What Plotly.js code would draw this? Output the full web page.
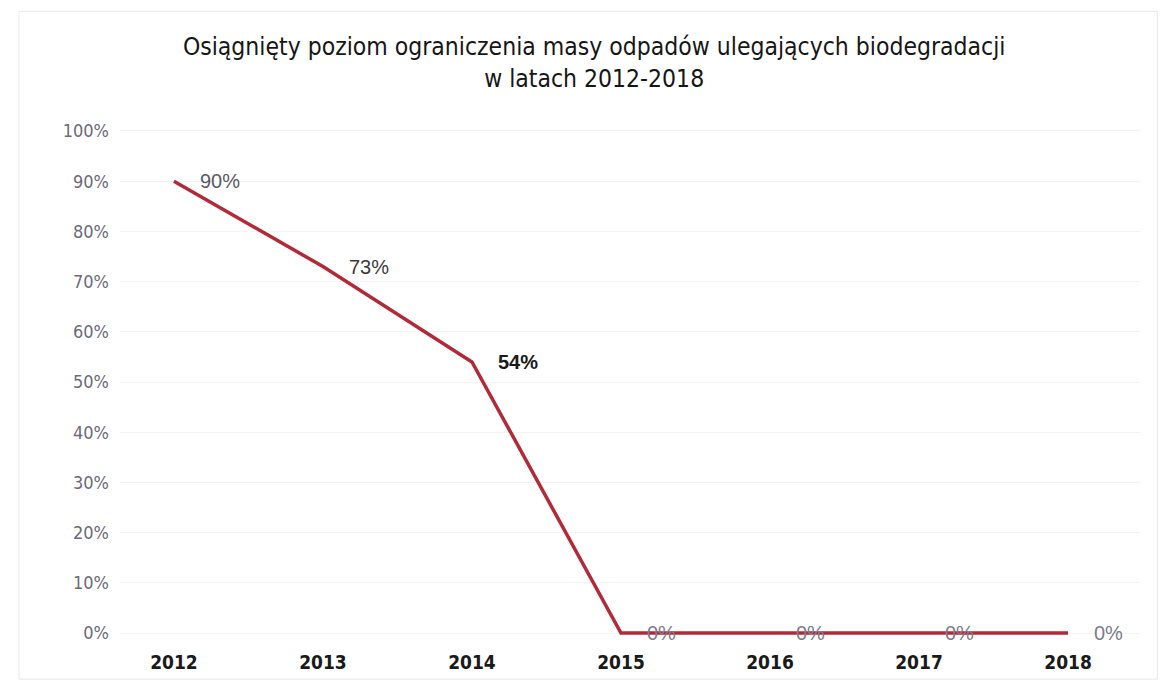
<!DOCTYPE html>
<html>
<head>
<meta charset="utf-8">
<script src="https://cdn.plot.ly/plotly-3.0.1.min.js"></script>
<style>html,body{margin:0;padding:0;background:#fff;}#chart{width:1165px;height:684px;}</style>
</head>
<body>
<div id="chart"></div>
<script>
const years = ['2012', '2013', '2014', '2015', '2016', '2017', '2018'];
const values = [90, 73, 54, 0, 0, 0, 0];
const labelText = ['90%', '73%', '<b>54%</b>', '0%', '0%', '0%', '0%'];
const labelColors = ['#5a5a62', '#3a3a3a', '#1a1a1a', '#7c7c8c', '#7c7c8c', '#7c7c8c', '#7c7c8c'];
const yTickVals = [0, 10, 20, 30, 40, 50, 60, 70, 80, 90, 100];
const yTickText = yTickVals.map(v => v + '%');

const COND = 'DejaVu Sans Condensed, Liberation Sans Narrow, Arial Narrow, sans-serif';
const REG = 'Liberation Sans, Arial, sans-serif';

const xIdx = years.map((y, i) => i);

const trace = {
  x: xIdx,
  y: values,
  type: 'scatter',
  mode: 'lines',
  line: {color: '#b22a37', width: 3.5},
  hoverinfo: 'skip'
};

const annotations = values.map((v, i) => ({
  x: xIdx[i], y: v, xref: 'x', yref: 'y',
  text: labelText[i],
  showarrow: false,
  xanchor: 'left', yanchor: 'middle',
  xshift: 24,
  font: {family: REG, size: 20, color: labelColors[i]}
}));

const layout = {
  width: 1165,
  height: 684,
  margin: {l: 120, r: 25, t: 120, b: 39},
  paper_bgcolor: '#ffffff',
  plot_bgcolor: '#ffffff',
  showlegend: false,
  title: {
    text: 'Osiągnięty poziom ograniczenia masy odpadów ulegających biodegradacji<br>w latach 2012-2018',
    font: {family: COND, size: 24.5, color: '#161616'},
    x: 0.51, xanchor: 'center', y: 0.92, yanchor: 'top'
  },
  xaxis: {
    range: [-0.362, 6.483],
    tickmode: 'array',
    tickvals: xIdx,
    ticktext: years,
    showgrid: false,
    zeroline: false,
    showline: false,
    ticks: '',
    ticklabelstandoff: 4,
    tickfont: {family: COND, size: 19, color: '#1a1a1a', weight: 'bold'}
  },
  yaxis: {
    range: [-2.39, 102.19],
    tickmode: 'array',
    tickvals: yTickVals,
    ticktext: yTickText,
    showgrid: true,
    gridcolor: '#f3f3f3',
    gridwidth: 1,
    zeroline: false,
    showline: false,
    ticks: '',
    ticklabelstandoff: 10,
    tickfont: {family: COND, size: 18, color: '#6a6a7a'}
  },
  annotations: annotations,
  shapes: [{
    type: 'rect', xref: 'paper', yref: 'paper',
    x0: -0.099, x1: 1.017, y0: -0.065, y1: 1.207,
    line: {color: '#e8e8e8', width: 1}
  }]
};

Plotly.newPlot('chart', [trace], layout, {displayModeBar: false, staticPlot: true});
</script>
</body>
</html>
